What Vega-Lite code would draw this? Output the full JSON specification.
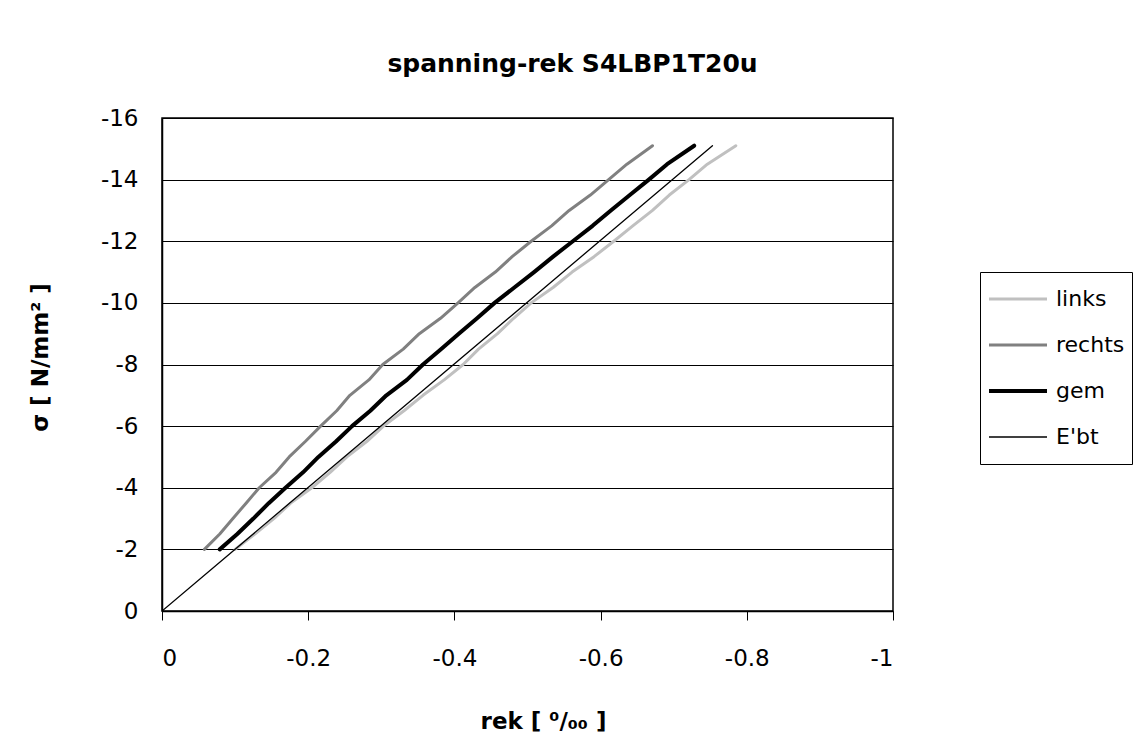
{
  "$schema": "https://vega.github.io/schema/vega-lite/v6.json",
  "width": 731,
  "height": 493,
  "autosize": {"type": "none"},
  "padding": {"left": 162, "top": 118, "right": 252, "bottom": 143},
  "background": "white",
  "config": {
    "locale": {"number": {"decimal": ".", "thousands": ",", "grouping": [3], "currency": ["$", ""], "minus": "-"}},
    "font": "DejaVu Sans",
    "view": {"stroke": "#000", "strokeWidth": 1.5}
  },
  "title": {
    "text": "spanning-rek S4LBP1T20u",
    "font": "DejaVu Sans",
    "fontSize": 25,
    "fontWeight": "bold",
    "color": "#000",
    "anchor": "middle",
    "dx": 45,
    "offset": 30
  },
  "data": {
    "values": [
      {"s": "links", "rek": -0.100, "sigma": -2.0},
      {"s": "links", "rek": -0.127, "sigma": -2.5},
      {"s": "links", "rek": -0.153, "sigma": -3.0},
      {"s": "links", "rek": -0.176, "sigma": -3.5},
      {"s": "links", "rek": -0.205, "sigma": -4.0},
      {"s": "links", "rek": -0.230, "sigma": -4.5},
      {"s": "links", "rek": -0.253, "sigma": -5.0},
      {"s": "links", "rek": -0.280, "sigma": -5.5},
      {"s": "links", "rek": -0.303, "sigma": -6.0},
      {"s": "links", "rek": -0.331, "sigma": -6.5},
      {"s": "links", "rek": -0.357, "sigma": -7.0},
      {"s": "links", "rek": -0.386, "sigma": -7.5},
      {"s": "links", "rek": -0.412, "sigma": -8.0},
      {"s": "links", "rek": -0.433, "sigma": -8.5},
      {"s": "links", "rek": -0.459, "sigma": -9.0},
      {"s": "links", "rek": -0.481, "sigma": -9.5},
      {"s": "links", "rek": -0.505, "sigma": -10.0},
      {"s": "links", "rek": -0.535, "sigma": -10.5},
      {"s": "links", "rek": -0.561, "sigma": -11.0},
      {"s": "links", "rek": -0.591, "sigma": -11.5},
      {"s": "links", "rek": -0.618, "sigma": -12.0},
      {"s": "links", "rek": -0.644, "sigma": -12.5},
      {"s": "links", "rek": -0.671, "sigma": -13.0},
      {"s": "links", "rek": -0.694, "sigma": -13.5},
      {"s": "links", "rek": -0.721, "sigma": -14.0},
      {"s": "links", "rek": -0.746, "sigma": -14.5},
      {"s": "links", "rek": -0.785, "sigma": -15.1},
      {"s": "rechts", "rek": -0.058, "sigma": -2.0},
      {"s": "rechts", "rek": -0.079, "sigma": -2.5},
      {"s": "rechts", "rek": -0.097, "sigma": -3.0},
      {"s": "rechts", "rek": -0.115, "sigma": -3.5},
      {"s": "rechts", "rek": -0.133, "sigma": -4.0},
      {"s": "rechts", "rek": -0.156, "sigma": -4.5},
      {"s": "rechts", "rek": -0.174, "sigma": -5.0},
      {"s": "rechts", "rek": -0.196, "sigma": -5.5},
      {"s": "rechts", "rek": -0.217, "sigma": -6.0},
      {"s": "rechts", "rek": -0.239, "sigma": -6.5},
      {"s": "rechts", "rek": -0.257, "sigma": -7.0},
      {"s": "rechts", "rek": -0.283, "sigma": -7.5},
      {"s": "rechts", "rek": -0.302, "sigma": -8.0},
      {"s": "rechts", "rek": -0.330, "sigma": -8.5},
      {"s": "rechts", "rek": -0.352, "sigma": -9.0},
      {"s": "rechts", "rek": -0.381, "sigma": -9.5},
      {"s": "rechts", "rek": -0.405, "sigma": -10.0},
      {"s": "rechts", "rek": -0.428, "sigma": -10.5},
      {"s": "rechts", "rek": -0.456, "sigma": -11.0},
      {"s": "rechts", "rek": -0.479, "sigma": -11.5},
      {"s": "rechts", "rek": -0.505, "sigma": -12.0},
      {"s": "rechts", "rek": -0.533, "sigma": -12.5},
      {"s": "rechts", "rek": -0.557, "sigma": -13.0},
      {"s": "rechts", "rek": -0.586, "sigma": -13.5},
      {"s": "rechts", "rek": -0.611, "sigma": -14.0},
      {"s": "rechts", "rek": -0.636, "sigma": -14.5},
      {"s": "rechts", "rek": -0.671, "sigma": -15.1},
      {"s": "gem", "rek": -0.079, "sigma": -2.0},
      {"s": "gem", "rek": -0.103, "sigma": -2.5},
      {"s": "gem", "rek": -0.125, "sigma": -3.0},
      {"s": "gem", "rek": -0.146, "sigma": -3.5},
      {"s": "gem", "rek": -0.169, "sigma": -4.0},
      {"s": "gem", "rek": -0.193, "sigma": -4.5},
      {"s": "gem", "rek": -0.214, "sigma": -5.0},
      {"s": "gem", "rek": -0.238, "sigma": -5.5},
      {"s": "gem", "rek": -0.260, "sigma": -6.0},
      {"s": "gem", "rek": -0.285, "sigma": -6.5},
      {"s": "gem", "rek": -0.307, "sigma": -7.0},
      {"s": "gem", "rek": -0.335, "sigma": -7.5},
      {"s": "gem", "rek": -0.357, "sigma": -8.0},
      {"s": "gem", "rek": -0.382, "sigma": -8.5},
      {"s": "gem", "rek": -0.406, "sigma": -9.0},
      {"s": "gem", "rek": -0.431, "sigma": -9.5},
      {"s": "gem", "rek": -0.455, "sigma": -10.0},
      {"s": "gem", "rek": -0.482, "sigma": -10.5},
      {"s": "gem", "rek": -0.509, "sigma": -11.0},
      {"s": "gem", "rek": -0.535, "sigma": -11.5},
      {"s": "gem", "rek": -0.562, "sigma": -12.0},
      {"s": "gem", "rek": -0.589, "sigma": -12.5},
      {"s": "gem", "rek": -0.614, "sigma": -13.0},
      {"s": "gem", "rek": -0.640, "sigma": -13.5},
      {"s": "gem", "rek": -0.666, "sigma": -14.0},
      {"s": "gem", "rek": -0.691, "sigma": -14.5},
      {"s": "gem", "rek": -0.728, "sigma": -15.1},
      {"s": "E'bt", "rek": 0, "sigma": 0},
      {"s": "E'bt", "rek": -0.753, "sigma": -15.1}
    ]
  },
  "mark": {"type": "line", "clip": true, "strokeCap": "round", "strokeJoin": "round"},
  "encoding": {
    "x": {
      "field": "rek",
      "type": "quantitative",
      "scale": {"domain": [-1, 0], "reverse": true, "nice": false, "zero": false},
      "axis": {
        "title": "rek [ ⁰/₀₀  ]",
        "values": [0, -0.2, -0.4, -0.6, -0.8, -1],
        "format": "~g",
        "grid": false,
        "domainColor": "#000",
        "domainWidth": 1.5,
        "tickColor": "#000",
        "tickSize": 9,
        "labelPadding": 27,
        "labelFont": "DejaVu Sans",
        "labelFontSize": 23,
        "labelColor": "#000",
        "titleFont": "DejaVu Sans",
        "titleFontSize": 23,
        "titleFontWeight": "bold",
        "titleColor": "#000",
        "titleX": 381,
        "titleY": 99
      }
    },
    "y": {
      "field": "sigma",
      "type": "quantitative",
      "scale": {"domain": [-16, 0], "reverse": true, "nice": false, "zero": false},
      "axis": {
        "title": "σ [ N/mm² ]",
        "values": [0, -2, -4, -6, -8, -10, -12, -14, -16],
        "format": "~g",
        "grid": true,
        "gridColor": "#000",
        "gridWidth": 1,
        "gridOpacity": 1,
        "ticks": false,
        "domainColor": "#000",
        "domainWidth": 1.5,
        "labelPadding": 24,
        "labelFont": "DejaVu Sans",
        "labelFontSize": 23,
        "labelColor": "#000",
        "titleFont": "DejaVu Sans",
        "titleFontSize": 23,
        "titleFontWeight": "bold",
        "titleColor": "#000",
        "titleX": -110,
        "titleY": 239
      }
    },
    "color": {
      "field": "s",
      "type": "nominal",
      "sort": null,
      "scale": {"domain": ["links", "rechts", "gem", "E'bt"], "range": ["#c0c0c0", "#808080", "#000000", "#000000"]},
      "legend": {
        "title": null,
        "orient": "none",
        "legendX": 818,
        "legendY": 154,
        "strokeColor": "#000",
        "fillColor": "#fff",
        "padding": 7,
        "symbolType": "stroke",
        "symbolSize": 3364,
        "labelFont": "DejaVu Sans",
        "labelFontSize": 22,
        "labelColor": "#000",
        "rowPadding": 6,
        "clipHeight": 40,
        "labelOffset": 7
      }
    },
    "strokeWidth": {
      "field": "s",
      "type": "nominal",
      "sort": null,
      "scale": {"type": "ordinal", "domain": ["links", "rechts", "gem", "E'bt"], "range": [3, 3, 4, 1.3]},
      "legend": {
        "title": null,
        "orient": "none",
        "legendX": 818,
        "legendY": 154,
        "strokeColor": "#000",
        "fillColor": "#fff",
        "padding": 7,
        "symbolType": "stroke",
        "symbolSize": 3364,
        "labelFont": "DejaVu Sans",
        "labelFontSize": 22,
        "labelColor": "#000",
        "rowPadding": 6,
        "clipHeight": 40,
        "labelOffset": 7
      }
    }
  }
}
